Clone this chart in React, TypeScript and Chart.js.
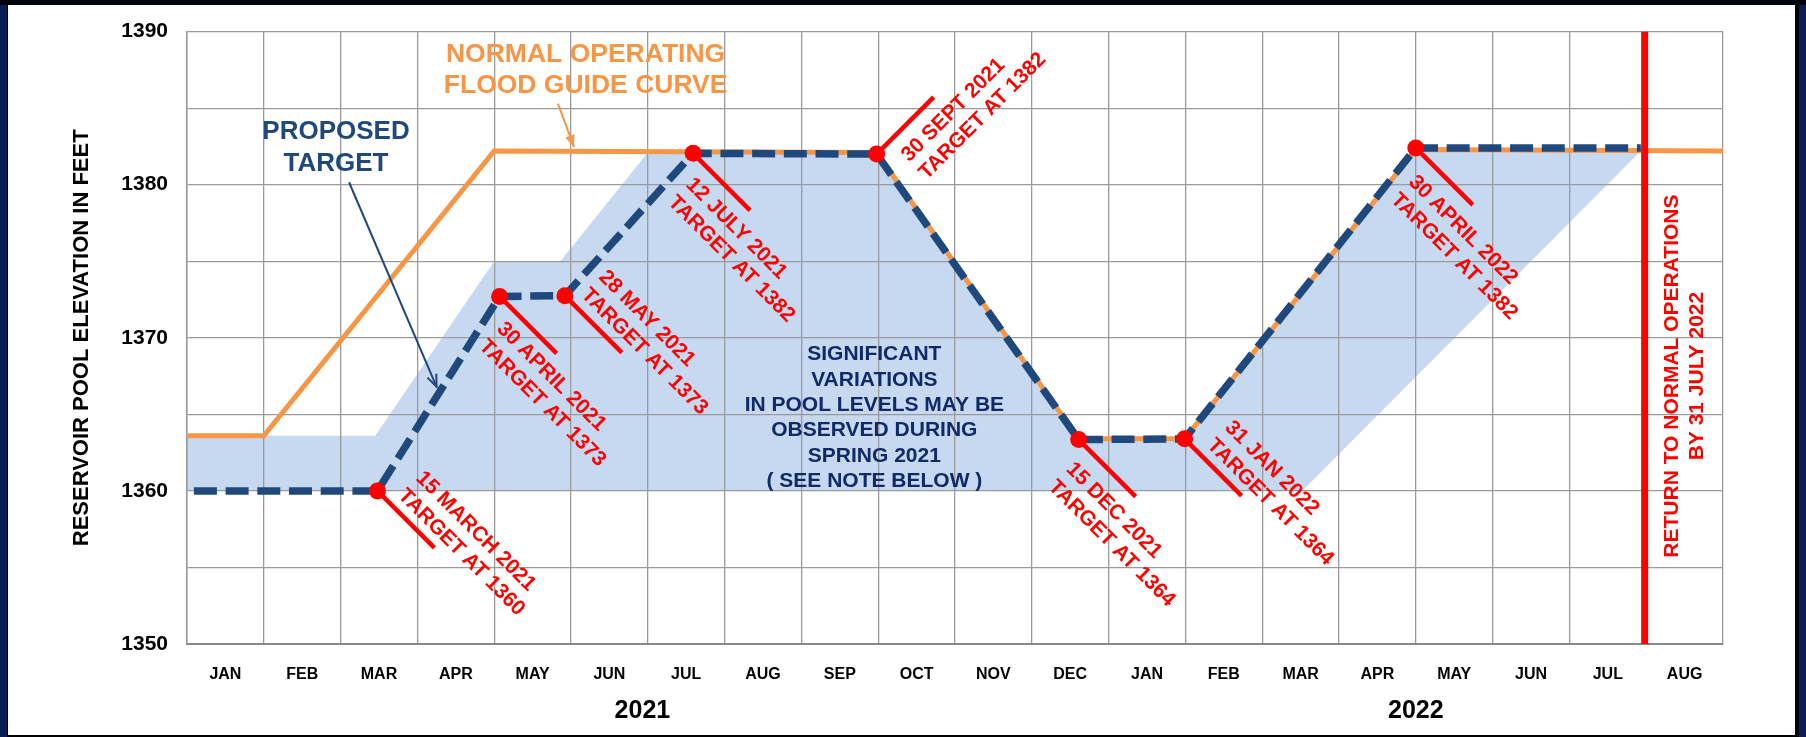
import React, { useEffect, useRef } from 'react';
import { Chart, registerables } from 'chart.js';

Chart.register(...registerables);

// ---------- data ----------
const MONTH_LABELS = ['JAN', 'FEB', 'MAR', 'APR', 'MAY', 'JUN', 'JUL', 'AUG', 'SEP', 'OCT', 'NOV', 'DEC',
  'JAN', 'FEB', 'MAR', 'APR', 'MAY', 'JUN', 'JUL', 'AUG'];
const YEAR_LABELS = ['2021', '2022'];
const YEAR_CENTERS = [5.93, 16];

// x = months elapsed since 1 Jan 2021
const GUIDE_X = [0, 1, 4, 8.98, 11.61, 12.99, 16.0, 20];
const GUIDE_Y = [1363.6, 1363.6, 1382.2, 1382.1, 1363.4, 1363.4, 1382.3, 1382.2];

const TARGET_X = [0.09, 2.48, 4.07, 4.92, 6.59, 8.98, 11.61, 12.99, 16.0, 18.93];
const TARGET_Y = [1360, 1360, 1372.7, 1372.75, 1382.05, 1382.0, 1363.35, 1363.4, 1382.4, 1382.4];

const MILESTONE_X = [2.48, 4.07, 4.92, 6.59, 8.98, 11.61, 12.99, 16.0];
const MILESTONE_Y = [1360, 1372.7, 1372.75, 1382.05, 1382.0, 1363.35, 1363.4, 1382.4];
const MILESTONE_TEXT = [
  ['15 MARCH 2021', 'TARGET AT 1360'],
  ['30 APRIL 2021', 'TARGET AT 1373'],
  ['28 MAY 2021', 'TARGET AT 1373'],
  ['12 JULY 2021', 'TARGET AT 1382'],
  ['30 SEPT 2021', 'TARGET AT 1382'],
  ['15 DEC 2021', 'TARGET AT 1364'],
  ['31 JAN 2022', 'TARGET AT 1364'],
  ['30 APRIL 2022', 'TARGET AT 1382'],
];

const BAND_X = [0, 0, 2.45, 4.0, 4.86, 6.0, 8.98, 11.61, 12.99, 16.0, 18.93, 14.52];
const BAND_Y = [1360, 1363.6, 1363.6, 1375, 1375, 1382.1, 1382.0, 1363.35, 1363.4, 1382.4, 1382.2, 1360];

const RETURN_X = [18.98, 18.98];
const RETURN_Y = [1349.87, 1390];

const GUIDE_NOTE = ['NORMAL OPERATING', 'FLOOD GUIDE CURVE'];
const TARGET_NOTE = ['PROPOSED', 'TARGET'];
const VARIATION_NOTE = ['SIGNIFICANT', 'VARIATIONS', 'IN POOL LEVELS MAY BE', 'OBSERVED DURING', 'SPRING 2021', '( SEE NOTE BELOW )'];
const RETURN_NOTE = ['RETURN TO NORMAL OPERATIONS', 'BY 31 JULY 2022'];
const Y_TITLE = 'RESERVOIR POOL ELEVATION IN FEET';

// ---------- layout / style (not data) ----------
const FONT = "'Liberation Sans', Arial, Helvetica, sans-serif";
const RED = '#FF0000';
const ORANGE = '#F79646';
const NAVY = '#1F497D';
const DARK_NAVY = '#0F2A66';
const BAND = '#C6D9F1';
const GRID = '#9a9a9a';

// label placement relative to each milestone marker (rotated frame, px)
const LABEL_LAYOUT = [
  { dir: 1, along: 18, down: -35 },
  { dir: 1, along: 21, down: 26 },
  { dir: 1, along: 11, down: -36 },
  { dir: 1, along: 17, down: 28.5 },
  { dir: -1, along: 17, down: 29 },
  { dir: 1, along: 12, down: 31 },
  { dir: 1, along: 20.5, down: -35 },
  { dir: 1, along: 19, down: 30.5 },
];
const NOTE_POS = {
  guide: { x: 5.19, y: 1387.48, gap: 31 },
  target: { x: 1.94, y: 1382.44, gap: 32 },
  variation: { x: 8.95, y: 1364.77, gap: 25.3 },
  ret: { x: 19.5, y: 1367.5, gap: 25 },
  guideArrow: { x1: 4.83, y1: 1385.29, x2: 5.04, y2: 1382.45 },
  targetArrow: { x1: 2.11, y1: 1380.16, x2: 3.25, y2: 1366.8 },
};

function pts(xs: number[], ys: number[]) {
  return xs.map((x, i) => ({ x, y: ys[i] }));
}

function drawArrow(ctx: CanvasRenderingContext2D, x1: number, y1: number, x2: number, y2: number, color: string, filled: boolean) {
  const ang = Math.atan2(y2 - y1, x2 - x1);
  const len = 13;
  const spread = 0.38;
  ctx.save();
  ctx.strokeStyle = color;
  ctx.fillStyle = color;
  ctx.lineWidth = 2;
  ctx.beginPath();
  ctx.moveTo(x1, y1);
  ctx.lineTo(x2, y2);
  ctx.stroke();
  const ax = x2 - len * Math.cos(ang - spread);
  const ay = y2 - len * Math.sin(ang - spread);
  const bx = x2 - len * Math.cos(ang + spread);
  const by = y2 - len * Math.sin(ang + spread);
  ctx.beginPath();
  if (filled) {
    ctx.moveTo(x2, y2);
    ctx.lineTo(ax, ay);
    ctx.lineTo(bx, by);
    ctx.closePath();
    ctx.fill();
  } else {
    ctx.moveTo(ax, ay);
    ctx.lineTo(x2, y2);
    ctx.lineTo(bx, by);
    ctx.stroke();
  }
  ctx.restore();
}

const annotationPlugin = {
  id: 'reservoirAnnotations',
  beforeDatasetsDraw(chart: any) {
    const ctx: CanvasRenderingContext2D = chart.ctx;
    const xs = chart.scales.x;
    const ys = chart.scales.y;
    ctx.save();
    ctx.strokeStyle = RED;
    ctx.lineWidth = 4.5;
    MILESTONE_X.forEach((mx, i) => {
      const px = xs.getPixelForValue(mx);
      const py = ys.getPixelForValue(MILESTONE_Y[i]);
      const d = LABEL_LAYOUT[i].dir;
      ctx.beginPath();
      ctx.moveTo(px, py);
      ctx.lineTo(px + 57, py + d * 57);
      ctx.stroke();
    });
    ctx.restore();
  },
  afterDatasetsDraw(chart: any) {
    const ctx: CanvasRenderingContext2D = chart.ctx;
    const xs = chart.scales.x;
    const ys = chart.scales.y;
    const X = (v: number) => xs.getPixelForValue(v);
    const Y = (v: number) => ys.getPixelForValue(v);

    // milestone labels
    ctx.save();
    ctx.font = `bold 21px ${FONT}`;
    ctx.fillStyle = RED;
    ctx.textAlign = 'left';
    ctx.textBaseline = 'alphabetic';
    MILESTONE_X.forEach((mx, i) => {
      const L = LABEL_LAYOUT[i];
      ctx.save();
      ctx.translate(X(mx), Y(MILESTONE_Y[i]));
      ctx.rotate((L.dir * Math.PI) / 4);
      ctx.fillText(MILESTONE_TEXT[i][0], L.along, L.down);
      ctx.fillText(MILESTONE_TEXT[i][1], L.along, L.down + 25);
      ctx.restore();
    });
    ctx.restore();

    const block = (lines: string[], cx: number, cy: number, gap: number, font: string, color: string) => {
      ctx.save();
      ctx.font = font;
      ctx.fillStyle = color;
      ctx.textAlign = 'center';
      ctx.textBaseline = 'middle';
      const start = cy - ((lines.length - 1) * gap) / 2;
      lines.forEach((t, i) => ctx.fillText(t, cx, start + i * gap));
      ctx.restore();
    };

    block(GUIDE_NOTE, X(NOTE_POS.guide.x), Y(NOTE_POS.guide.y), NOTE_POS.guide.gap, `bold 26.5px ${FONT}`, ORANGE);
    block(TARGET_NOTE, X(NOTE_POS.target.x), Y(NOTE_POS.target.y), NOTE_POS.target.gap, `bold 26px ${FONT}`, NAVY);
    block(VARIATION_NOTE, X(NOTE_POS.variation.x), Y(NOTE_POS.variation.y), NOTE_POS.variation.gap, `bold 21px ${FONT}`, DARK_NAVY);

    // return-to-normal note (rotated)
    ctx.save();
    ctx.translate(X(NOTE_POS.ret.x), Y(NOTE_POS.ret.y));
    ctx.rotate(-Math.PI / 2);
    ctx.font = `bold 21px ${FONT}`;
    ctx.fillStyle = RED;
    ctx.textAlign = 'center';
    ctx.textBaseline = 'middle';
    ctx.fillText(RETURN_NOTE[0], 0, -NOTE_POS.ret.gap / 2);
    ctx.fillText(RETURN_NOTE[1], 0, NOTE_POS.ret.gap / 2);
    ctx.restore();

    const ga = NOTE_POS.guideArrow;
    drawArrow(ctx, X(ga.x1), Y(ga.y1), X(ga.x2), Y(ga.y2), ORANGE, true);
    const ta = NOTE_POS.targetArrow;
    drawArrow(ctx, X(ta.x1), Y(ta.y1), X(ta.x2), Y(ta.y2), NAVY, false);
  },
};

export default function App() {
  const canvasRef = useRef<HTMLCanvasElement>(null);

  useEffect(() => {
    if (!canvasRef.current) return;
    const chart = new Chart(canvasRef.current, {
      type: 'line',
      data: {
        datasets: [
          {
            label: 'Milestones',
            data: pts(MILESTONE_X, MILESTONE_Y),
            showLine: false,
            pointRadius: 8.5,
            pointBackgroundColor: RED,
            pointBorderWidth: 0,
            pointHoverRadius: 8.5,
            fill: false,
            order: 1,
          },
          {
            label: 'Return to normal',
            data: pts(RETURN_X, RETURN_Y),
            borderColor: RED,
            borderWidth: 7,
            pointRadius: 0,
            fill: false,
            order: 2,
          },
          {
            label: 'Proposed target',
            data: pts(TARGET_X, TARGET_Y),
            borderColor: NAVY,
            borderWidth: 7.5,
            borderDash: [23, 8.7],
            borderCapStyle: 'butt',
            pointRadius: 0,
            fill: false,
            order: 3,
          },
          {
            label: 'Normal operating flood guide curve',
            data: pts(GUIDE_X, GUIDE_Y),
            borderColor: ORANGE,
            borderWidth: 5,
            pointRadius: 0,
            fill: false,
            order: 4,
          },
          {
            label: 'Variation band',
            data: pts(BAND_X, BAND_Y),
            borderWidth: 0,
            borderColor: 'rgba(0,0,0,0)',
            backgroundColor: BAND,
            pointRadius: 0,
            fill: 'shape',
            order: 5,
          },
        ],
      },
      options: {
        responsive: false,
        animation: false,
        devicePixelRatio: 1,
        events: [],
        layout: { padding: { left: 69.2, right: 83, top: 31, bottom: 0 } },
        plugins: {
          legend: { display: false },
          tooltip: { enabled: false },
          filler: { drawTime: 'beforeDraw' },
        },
        scales: {
          x: {
            type: 'linear',
            position: 'bottom',
            min: 0,
            max: 20,
            ticks: { display: false, stepSize: 1 },
            grid: { color: GRID, lineWidth: 1.3, drawTicks: false },
            border: { color: '#888888', width: 2 },
            afterFit: (s: any) => { s.height = 0; },
          },
          xMonth: {
            type: 'linear',
            position: 'bottom',
            min: 0,
            max: 20,
            grid: { display: false, drawTicks: false },
            border: { display: false },
            afterBuildTicks: (s: any) => { s.ticks = MONTH_LABELS.map((_, i) => ({ value: i + 0.5 })); },
            ticks: {
              autoSkip: false,
              maxRotation: 0,
              minRotation: 0,
              padding: 21,
              color: '#000',
              font: { family: FONT, size: 16, weight: 'bold' },
              callback: (_v: any, i: number) => MONTH_LABELS[i],
            },
            afterFit: (s: any) => { s.height = 48; },
          },
          xYear: {
            type: 'linear',
            position: 'bottom',
            min: 0,
            max: 20,
            grid: { display: false, drawTicks: false },
            border: { display: false },
            afterBuildTicks: (s: any) => { s.ticks = YEAR_CENTERS.map((v) => ({ value: v })); },
            ticks: {
              autoSkip: false,
              maxRotation: 0,
              minRotation: 0,
              padding: 4,
              color: '#000',
              font: { family: FONT, size: 25, weight: 'bold' },
              callback: (_v: any, i: number) => YEAR_LABELS[i],
            },
            afterFit: (s: any) => { s.height = 45; },
          },
          y: {
            type: 'linear',
            min: 1350,
            max: 1390,
            grid: { color: GRID, lineWidth: 1.3, drawTicks: false },
            border: { color: '#999999', width: 1.5 },
            ticks: {
              stepSize: 5,
              padding: 19,
              color: '#000',
              font: { family: FONT, size: 21, weight: 'bold' },
              callback: (v: any) => (Number(v) % 10 === 0 ? String(v) : ''),
            },
            title: {
              display: true,
              text: Y_TITLE,
              color: '#000',
              padding: { top: 0, bottom: 0 },
              font: { family: FONT, size: 22, weight: 'bold' },
            },
            afterFit: (s: any) => { s.width = 117.8; },
          },
        },
      } as any,
      plugins: [annotationPlugin],
    });
    return () => chart.destroy();
  }, []);

  return (
    <div style={{ position: 'absolute', left: 0, top: 0, width: 1806, height: 737, background: '#0b1d55', overflow: 'hidden' }}>
      <div style={{ position: 'absolute', left: 0, top: 0, width: 1806, height: 5, background: '#02050d' }} />
      <div style={{ position: 'absolute', left: 7, top: 4, width: 1792, height: 733, background: '#000' }} />
      <div style={{ position: 'absolute', left: 8, top: 5, width: 1787, height: 730, background: '#ffffff' }} />
      <canvas
        ref={canvasRef}
        width={1806}
        height={737}
        style={{ position: 'absolute', left: 0, top: 0, width: 1806, height: 737 }}
      />
    </div>
  );
}
